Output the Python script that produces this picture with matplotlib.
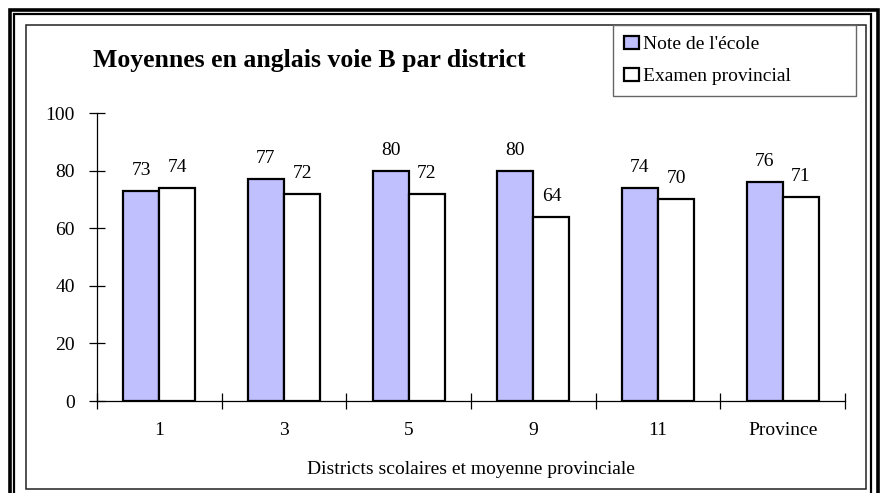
import matplotlib
matplotlib.use("Agg")
import matplotlib.pyplot as plt
from matplotlib.patches import Rectangle, Patch
import numpy as np

categories = ["1", "3", "5", "9", "11", "Province"]
note_ecole = [73, 77, 80, 80, 74, 76]
examen_prov = [74, 72, 72, 64, 70, 71]
series_names = ["Note de l'école", "Examen provincial"]
title = "Moyennes en anglais voie B par district"
xlabel = "Districts scolaires et moyenne provinciale"
yticks = [0, 20, 40, 60, 80, 100]

W, H = 880, 493
plt.rcParams['font.family'] = ['Liberation Serif', 'DejaVu Serif']
fig = plt.figure(figsize=(W / 100, H / 100), dpi=100)
fig.patch.set_facecolor("white")

def fx(px):
    return px / W

def fy(py):
    return 1 - py / H

# frame lines
def frame(x0, y0, x1, y1, lw, color="black"):
    r = Rectangle((fx(x0), fy(y1)), fx(x1) - fx(x0), fy(y0) - fy(y1),
                  transform=fig.transFigure, fill=False, lw=lw, edgecolor=color,
                  clip_on=False, zorder=10)
    fig.add_artist(r)

frame(9.5, 10, 877.5, 520, 2.6)
frame(14, 14, 871, 520, 1.6)
frame(25.5, 24.5, 865.5, 489, 1.1, "#222222")

FS = 14
ax = fig.add_axes([fx(97), fy(401), fx(845) - fx(97), fy(113) - fy(401)])
x = np.arange(len(categories))
bw = 0.29
b1 = ax.bar(x - bw / 2, note_ecole, bw, color="#C0C0FF", edgecolor="black", lw=1.6, zorder=3)
b2 = ax.bar(x + bw / 2, examen_prov, bw, color="white", edgecolor="black", lw=1.6, zorder=3)

for bars, vals in ((b1, note_ecole), (b2, examen_prov)):
    for b, v in zip(bars, vals):
        ax.annotate(str(v), (b.get_x() + b.get_width() / 2, v), xytext=(0, 11.5),
                    textcoords="offset points", ha="center", va="baseline", fontsize=FS)

ax.set_xlim(-0.5, len(categories) - 0.5)
ax.set_ylim(0, 100)
ax.set_yticks(yticks)
ax.set_yticklabels([str(t) for t in yticks], fontsize=FS)
ax.set_xticks(np.arange(len(categories) + 1) - 0.5)
ax.set_xticklabels([])
ax.set_xticks(x, minor=True)
ax.set_xticklabels(categories, minor=True, fontsize=FS)
ax.tick_params(axis="x", which="major", direction="inout", length=11, width=0.9)
ax.tick_params(axis="x", which="minor", length=0, pad=15)
ax.tick_params(axis="y", direction="inout", length=12, width=0.9, pad=10)
for s in ("top", "right"):
    ax.spines[s].set_visible(False)
for s in ("left", "bottom"):
    ax.spines[s].set_linewidth(0.9)
ax.patch.set_alpha(0)

fig.text(fx(93), fy(60), title, fontsize=18.5, fontweight="bold", ha="left", va="center")
fig.text(fx(471), fy(469), xlabel, fontsize=FS, ha="center", va="center")

handles = [Patch(facecolor="#C0C0FF", edgecolor="black", lw=1.6),
           Patch(facecolor="white", edgecolor="black", lw=1.6)]
leg = fig.legend(handles, series_names, loc="upper left",
                 bbox_to_anchor=(fx(613), fy(94), fx(856) - fx(613), fy(25) - fy(94)),
                 mode="expand",
                 fancybox=False, edgecolor="#666666", framealpha=1, fontsize=14,
                 handlelength=0.8, handleheight=0.65, handletextpad=0.2,
                 borderpad=0.55, labelspacing=0.75, borderaxespad=0)
leg.get_frame().set_linewidth(1.0)
leg.set_zorder(11)

fig.savefig("out.png", dpi=100)
